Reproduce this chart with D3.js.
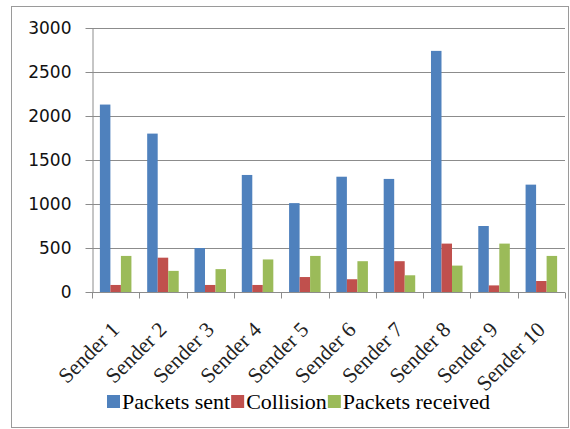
<!DOCTYPE html>
<html>
<head>
<meta charset="utf-8">
<script src="https://cdn.jsdelivr.net/npm/d3@7/dist/d3.min.js"></script>
<style>
  html, body { margin: 0; padding: 0; background: #fff; }
  svg { display: block; }
</style>
</head>
<body>
<svg id="chart" width="570" height="429"></svg>
<script>
// Per-sender packet counts
const senders = ["Sender 1", "Sender 2", "Sender 3", "Sender 4", "Sender 5",
                 "Sender 6", "Sender 7", "Sender 8", "Sender 9", "Sender 10"];
const seriesNames = ["Packets sent", "Collision", "Packets received"];
const packetsSent     = [2130, 1800, 500, 1330, 1010, 1310, 1285, 2740, 750, 1220];
const collision       = [80, 390, 80, 80, 170, 145, 350, 550, 75, 125];
const packetsReceived = [410, 240, 260, 370, 410, 350, 190, 300, 550, 410];
const yTicks = [0, 500, 1000, 1500, 2000, 2500, 3000];
const colors = ["#4F81BD", "#C0504D", "#9BBB59"];

const seriesValues = [packetsSent, collision, packetsReceived];
const rows = senders.map((s, i) => ({
  sender: s,
  values: seriesNames.map((n, k) => ({ key: n, value: seriesValues[k][i] }))
}));

const svg = d3.select("#chart");
const plot = { left: 92, right: 565, top: 28, bottom: 292 };

// Outer frame
svg.append("rect")
  .attr("x", 11.5).attr("y", 6.5)
  .attr("width", 557).attr("height", 421)
  .attr("fill", "#fff").attr("stroke", "#9a9a9a").attr("stroke-width", 1);

const x0 = d3.scaleBand().domain(senders).range([plot.left, plot.right]).padding(0);
const x1 = d3.scaleBand().domain(seriesNames).range([0, x0.bandwidth()])
  .paddingInner(0).paddingOuter(0.75);
const y = d3.scaleLinear().domain([0, 3000]).range([plot.bottom, plot.top]);
const color = d3.scaleOrdinal().domain(seriesNames).range(colors);

// Horizontal gridlines
svg.append("g")
  .selectAll("line")
  .data(yTicks.filter(t => t > 0))
  .join("line")
  .attr("x1", plot.left).attr("x2", plot.right)
  .attr("y1", d => Math.round(y(d)) + 0.5).attr("y2", d => Math.round(y(d)) + 0.5)
  .attr("stroke", "#8c8c8c").attr("stroke-width", 1);

// Y axis
const yAxis = svg.append("g")
  .attr("transform", `translate(${plot.left + 0.5},0)`)
  .call(d3.axisLeft(y).tickValues(yTicks).tickFormat(d3.format("d"))
    .tickSize(7).tickPadding(14).tickSizeOuter(0));
yAxis.select(".domain").attr("stroke", "#8c8c8c");
yAxis.selectAll(".tick line").attr("stroke", "#8c8c8c");
yAxis.selectAll(".tick text")
  .attr("font-family", "DejaVu Sans, sans-serif")
  .attr("font-size", 17)
  .attr("fill", "#111");

// Bars
svg.append("g")
  .selectAll("g")
  .data(rows)
  .join("g")
  .attr("transform", d => `translate(${x0(d.sender)},0)`)
  .selectAll("rect")
  .data(d => d.values)
  .join("rect")
  .attr("x", d => x1(d.key))
  .attr("y", d => y(d.value))
  .attr("width", x1.bandwidth())
  .attr("height", d => y(0) - y(d.value))
  .attr("fill", d => color(d.key));

// X axis with ticks at category boundaries
const xAxisG = svg.append("g").attr("transform", `translate(0,${plot.bottom + 0.5})`);
xAxisG.append("line")
  .attr("x1", plot.left).attr("x2", plot.right)
  .attr("stroke", "#8c8c8c");
const bounds = senders.map(s => x0(s)).concat([plot.right]);
xAxisG.selectAll("line.tick")
  .data(bounds)
  .join("line")
  .attr("class", "tick")
  .attr("x1", d => Math.round(d) + 0.5).attr("x2", d => Math.round(d) + 0.5)
  .attr("y1", 0).attr("y2", 6)
  .attr("stroke", "#8c8c8c");

// Rotated category labels
svg.append("g")
  .selectAll("text")
  .data(senders)
  .join("text")
  .attr("transform", d => `translate(${x0(d) + x0.bandwidth() / 2 + 5},331) rotate(-45)`)
  .attr("text-anchor", "end")
  .attr("font-family", "'Liberation Serif', 'Times New Roman', serif")
  .attr("font-size", 21.5)
  .attr("fill", "#222")
  .text(d => d);

// Legend
const legend = svg.append("g").attr("transform", "translate(107,409)");
let lx = 0;
seriesNames.forEach((name, i) => {
  legend.append("rect")
    .attr("x", lx).attr("y", -14)
    .attr("width", 13).attr("height", 13)
    .attr("fill", colors[i]);
  const t = legend.append("text")
    .attr("x", lx + 15).attr("y", 0)
    .attr("font-family", "'Liberation Serif', 'Times New Roman', serif")
    .attr("font-size", 22)
    .attr("fill", "#000")
    .text(name);
  lx += 15 + t.node().getComputedTextLength() + 1;
});
</script>
</body>
</html>
